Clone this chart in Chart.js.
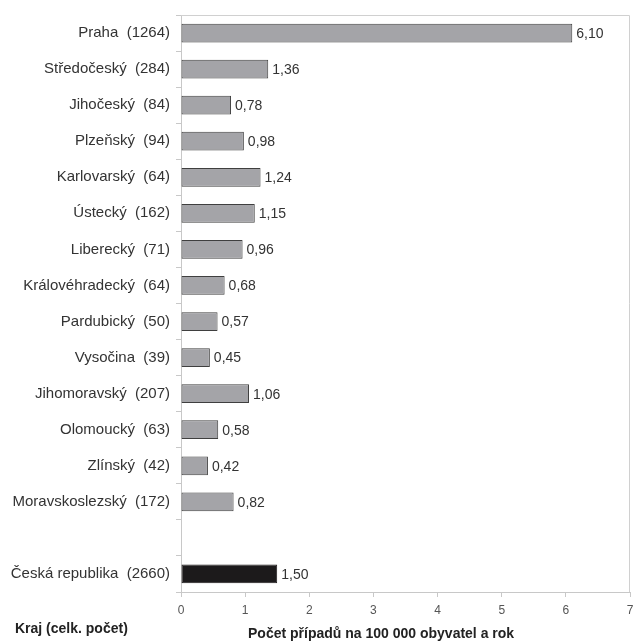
<!DOCTYPE html>
<html>
<head>
<meta charset="utf-8">
<script src="https://cdn.jsdelivr.net/npm/chart.js@4/dist/chart.umd.min.js"></script>
<style>
  html, body { margin: 0; padding: 0; background: #fff; }
  #wrap { position: relative; width: 633px; height: 641px; }
  .lbl { position: absolute; font-family: "Liberation Sans", Arial, sans-serif; font-weight: bold; font-size: 14px; color: #222; white-space: nowrap; line-height: 16px; }
</style>
</head>
<body>
<div id="wrap">
  <canvas id="c"></canvas>
  <div class="lbl" style="left:15px; top:620px;">Kraj (celk. počet)</div>
  <div class="lbl" style="left:248px; top:625px;">Počet případů na 100 000 obyvatel a rok</div>
</div>
<script>
const regions = ["Praha", "Středočeský", "Jihočeský", "Plzeňský", "Karlovarský", "Ústecký", "Liberecký",
  "Královéhradecký", "Pardubický", "Vysočina", "Jihomoravský", "Olomoucký", "Zlínský", "Moravskoslezský",
  "", "Česká republika"];
const counts = [1264, 284, 84, 94, 64, 162, 71, 64, 50, 39, 207, 63, 42, 172, null, 2660];
const rates = [6.10, 1.36, 0.78, 0.98, 1.24, 1.15, 0.96, 0.68, 0.57, 0.45, 1.06, 0.58, 0.42, 0.82, null, 1.50];
const xTicks = [0, 1, 2, 3, 4, 5, 6, 7];

const labels = regions.map((r, i) => r === "" ? "" : r + "  (" + counts[i] + ")");
const totalIndex = regions.length - 1;

const valueLabels = {
  id: 'valueLabels',
  afterDatasetsDraw(chart) {
    const ctx = chart.ctx;
    const meta = chart.getDatasetMeta(0);
    ctx.save();
    ctx.font = '14px "Liberation Sans", Arial, sans-serif';
    ctx.fillStyle = '#333';
    ctx.textBaseline = 'middle';
    ctx.textAlign = 'left';
    meta.data.forEach((bar, i) => {
      const v = rates[i];
      if (v === null || v === undefined) return;
      ctx.fillText(v.toFixed(2).replace('.', ','), bar.x + 4, bar.y + 1);
    });
    ctx.restore();
  }
};

const frame = {
  id: 'frame',
  beforeDatasetsDraw(chart) {
    const a = chart.chartArea;
    const ctx = chart.ctx;
    ctx.save();
    ctx.strokeStyle = '#d0d0d0';
    ctx.lineWidth = 1;
    ctx.beginPath();
    ctx.moveTo(a.left, a.top + 0.5);
    ctx.lineTo(a.right - 0.5, a.top + 0.5);
    ctx.lineTo(a.right - 0.5, a.bottom);
    ctx.stroke();
    ctx.restore();
  }
};

new Chart(document.getElementById('c'), {
  type: 'bar',
  data: {
    labels: labels,
    datasets: [{
      data: rates,
      backgroundColor: (c) => c.dataIndex === totalIndex ? '#1c1a1b' : '#a4a4a8',
      borderColor: (c) => c.dataIndex === totalIndex ? '#1c1a1b' : '#3f3f3f',
      borderWidth: 1,
      borderSkipped: false,
      barPercentage: 0.52,
      categoryPercentage: 1.0
    }]
  },
  options: {
    indexAxis: 'y',
    responsive: true,
    maintainAspectRatio: false,
    animation: false,
    layout: { padding: { left: 0, right: 3, top: 14, bottom: 0 } },
    plugins: { legend: { display: false }, tooltip: { enabled: false } },
    scales: {
      x: {
        min: 0, max: 7,
        afterBuildTicks(s) { s.ticks = xTicks.map(v => ({ value: v })); },
        afterFit(s) { s.height = 49; s.paddingLeft = 0; s.paddingRight = 0; },
        grid: { drawOnChartArea: false, drawTicks: true, tickLength: 5, color: '#c8c8c8' },
        border: { display: true, color: '#c8c8c8' },
        ticks: { color: '#555', font: { family: '"Liberation Sans", Arial, sans-serif', size: 12 }, padding: 6, maxRotation: 0 }
      },
      y: {
        afterFit(s) { s.width = 181; },
        grid: { offset: true, drawOnChartArea: false, drawTicks: true, tickLength: 5, color: '#c8c8c8' },
        border: { display: true, color: '#c8c8c8' },
        ticks: { color: '#333', font: { family: '"Liberation Sans", Arial, sans-serif', size: 15 }, padding: 6, autoSkip: false }
      }
    }
  },
  plugins: [frame, valueLabels]
});
</script>
</body>
</html>
